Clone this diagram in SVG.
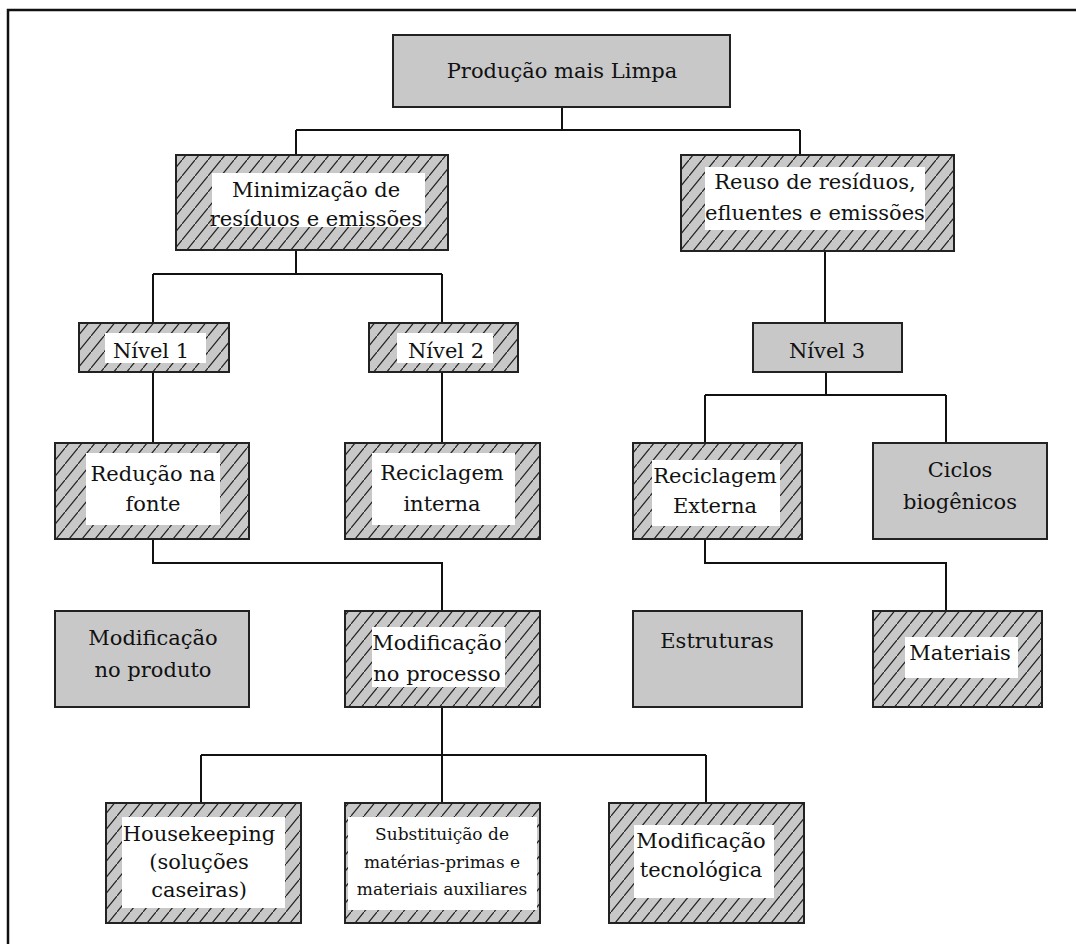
<svg xmlns="http://www.w3.org/2000/svg" width="1076" height="944" viewBox="0 0 1076 944">
<defs>
<pattern id="hatch" patternUnits="userSpaceOnUse" width="13" height="16">
<rect width="13" height="16" fill="#c8c8c8"/>
<path d="M0,16 L13,0 M-2,2 L1,-2 M12,18 L15,14" stroke="#222" stroke-width="1.2"/>
</pattern>
</defs>
<style>
rect.frame{fill:none;stroke:#111;stroke-width:2.5}
.solid{fill:#c8c8c8;stroke:#222;stroke-width:2}
.hatched{fill:url(#hatch);stroke:#222;stroke-width:2}
.inner{fill:#fff;stroke:none}
text{font-family:"DejaVu Serif","Liberation Serif",serif;font-size:21px;fill:#111;text-anchor:middle}
text.small{font-size:17px}
#connectors path{fill:none;stroke:#111;stroke-width:2}
</style>
<rect x="0" y="0" width="1076" height="944" fill="#fff"/>
<rect class="frame" x="8" y="10" width="1080" height="950"/>

<g id="connectors">
<path d="M562,107 V130 M296,130 H800 M296,130 V155 M800,130 V155"/>
<path d="M296,250 V274 M153,274 H442 M153,274 V323 M442,274 V323"/>
<path d="M825,251 V323"/>
<path d="M153,372 V443 M442,372 V443"/>
<path d="M826,372 V395 M705,395 H946 M705,395 V443 M946,395 V443"/>
<path d="M153,539 V563 H442 V611"/>
<path d="M705,539 V563 H946 V611"/>
<path d="M442,707 V755 M201,755 H706 M201,755 V803 M442,755 V803 M706,755 V803"/>
</g>

<g id="n-producao">
<rect class="solid" x="393" y="35" width="337" height="72"/>
<text x="562" y="78">Produção mais Limpa</text>
</g>

<g id="n-minimizacao">
<rect class="hatched" x="176" y="155" width="272" height="95"/>
<rect class="inner" x="212" y="173" width="213" height="54"/>
<text x="316" y="197">Minimização de</text>
<text x="316" y="226">resíduos e emissões</text>
</g>

<g id="n-reuso">
<rect class="hatched" x="681" y="155" width="273" height="96"/>
<rect class="inner" x="705" y="167" width="220" height="63"/>
<text x="815" y="189">Reuso de resíduos,</text>
<text x="815" y="220">efluentes e emissões</text>
</g>

<g id="n-nivel1">
<rect class="hatched" x="79" y="323" width="150" height="49"/>
<rect class="inner" x="105" y="333" width="101" height="30"/>
<text x="151" y="358">Nível 1</text>
</g>

<g id="n-nivel2">
<rect class="hatched" x="369" y="323" width="149" height="49"/>
<rect class="inner" x="397" y="333" width="96" height="30"/>
<text x="446" y="358">Nível 2</text>
</g>

<g id="n-nivel3">
<rect class="solid" x="753" y="323" width="149" height="49"/>
<text x="827" y="358">Nível 3</text>
</g>

<g id="n-reducao">
<rect class="hatched" x="55" y="443" width="194" height="96"/>
<rect class="inner" x="86" y="453" width="134" height="72"/>
<text x="153" y="481">Redução na</text>
<text x="153" y="511">fonte</text>
</g>

<g id="n-recicl-interna">
<rect class="hatched" x="345" y="443" width="195" height="96"/>
<rect class="inner" x="372" y="453" width="143" height="72"/>
<text x="442" y="480">Reciclagem</text>
<text x="442" y="511">interna</text>
</g>

<g id="n-recicl-externa">
<rect class="hatched" x="633" y="443" width="169" height="96"/>
<rect class="inner" x="652" y="460" width="128" height="66"/>
<text x="715" y="483">Reciclagem</text>
<text x="715" y="513">Externa</text>
</g>

<g id="n-ciclos">
<rect class="solid" x="873" y="443" width="174" height="96"/>
<text x="960" y="477">Ciclos</text>
<text x="960" y="509">biogênicos</text>
</g>

<g id="n-mod-produto">
<rect class="solid" x="55" y="611" width="194" height="96"/>
<text x="153" y="645">Modificação</text>
<text x="153" y="677">no produto</text>
</g>

<g id="n-mod-processo">
<rect class="hatched" x="345" y="611" width="195" height="96"/>
<rect class="inner" x="372" y="627" width="133" height="60"/>
<text x="437" y="650">Modificação</text>
<text x="437" y="681">no processo</text>
</g>

<g id="n-estruturas">
<rect class="solid" x="633" y="611" width="169" height="96"/>
<text x="717" y="648">Estruturas</text>
</g>

<g id="n-materiais">
<rect class="hatched" x="873" y="611" width="169" height="96"/>
<rect class="inner" x="905" y="637" width="113" height="41"/>
<text x="960" y="660">Materiais</text>
</g>

<g id="n-housekeeping">
<rect class="hatched" x="106" y="803" width="195" height="120"/>
<rect class="inner" x="122" y="817" width="163" height="91"/>
<text x="199" y="841">Housekeeping</text>
<text x="199" y="869">(soluções</text>
<text x="199" y="897">caseiras)</text>
</g>

<g id="n-substituicao">
<rect class="hatched" x="345" y="803" width="195" height="120"/>
<rect class="inner" x="348" y="817" width="189" height="93"/>
<text class="small" x="442" y="840">Substituição de</text>
<text class="small" x="442" y="868">matérias-primas e</text>
<text class="small" x="442" y="895">materiais auxiliares</text>
</g>

<g id="n-mod-tecnologica">
<rect class="hatched" x="609" y="803" width="195" height="120"/>
<rect class="inner" x="634" y="825" width="140" height="73"/>
<text x="701" y="848">Modificação</text>
<text x="701" y="877">tecnológica</text>
</g>
</svg>
